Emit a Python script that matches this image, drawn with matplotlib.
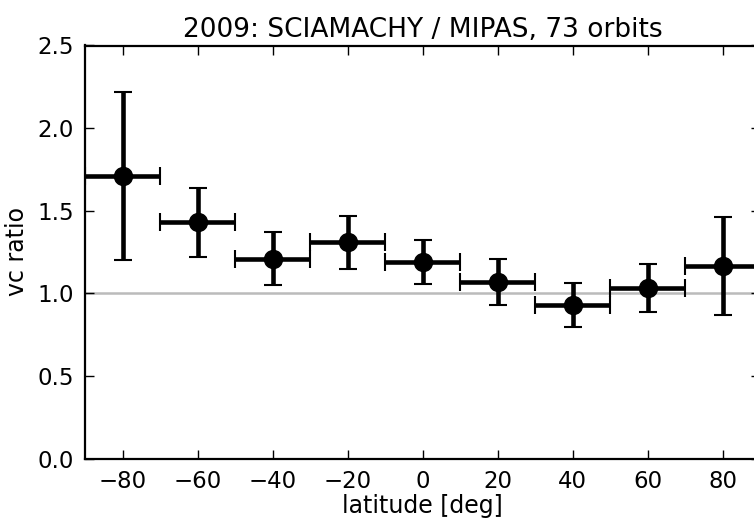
import matplotlib
matplotlib.use("Agg")
import matplotlib.pyplot as plt
import numpy as np

# latitude bin centres and half-widths
lat = np.array([-80, -60, -40, -20, 0, 20, 40, 60, 80])
lat_err = np.array([10, 10, 10, 10, 10, 10, 10, 10, 10])
# ratio of vertical columns and its error
ratio = np.array([1.71, 1.43, 1.21, 1.31, 1.19, 1.07, 0.93, 1.03, 1.165])
ratio_err = np.array([0.51, 0.21, 0.16, 0.16, 0.135, 0.14, 0.134, 0.146, 0.296])

xticks = [-80, -60, -40, -20, 0, 20, 40, 60, 80]
yticks = [0.0, 0.5, 1.0, 1.5, 2.0, 2.5]

fig = plt.figure(figsize=(7.54, 5.21), dpi=100)
ax = fig.add_axes([85 / 754, 1 - 458.5 / 521, 675 / 754, 413 / 521])

ax.axhline(1.0, color='#bbbbbb', lw=1.8, zorder=1)
ax.errorbar(lat, ratio, xerr=lat_err, yerr=ratio_err, fmt='o', color='black',
            ms=13, elinewidth=3.3, capsize=6.5, capthick=1.5, zorder=3)

ax.set_xlim(-90, 90)
ax.set_ylim(0, 2.5)
ax.set_xticks(xticks)
ax.set_yticks(yticks)
ax.set_yticklabels(['%.1f' % v for v in yticks])
ax.tick_params(direction='in', length=6.5, width=1, labelsize=16.5,
               top=True, right=True)
ax.tick_params(axis='x', pad=8)
ax.tick_params(axis='y', pad=8)
for s in ax.spines.values():
    s.set_linewidth(1.6)

ax.set_xlabel('latitude [deg]', fontsize=17, labelpad=1)
ax.set_ylabel('vc ratio', fontsize=17, labelpad=6)
ax.set_title('2009: SCIAMACHY / MIPAS, 73 orbits', fontsize=19, pad=6)

fig.savefig('out.png', dpi=100)
